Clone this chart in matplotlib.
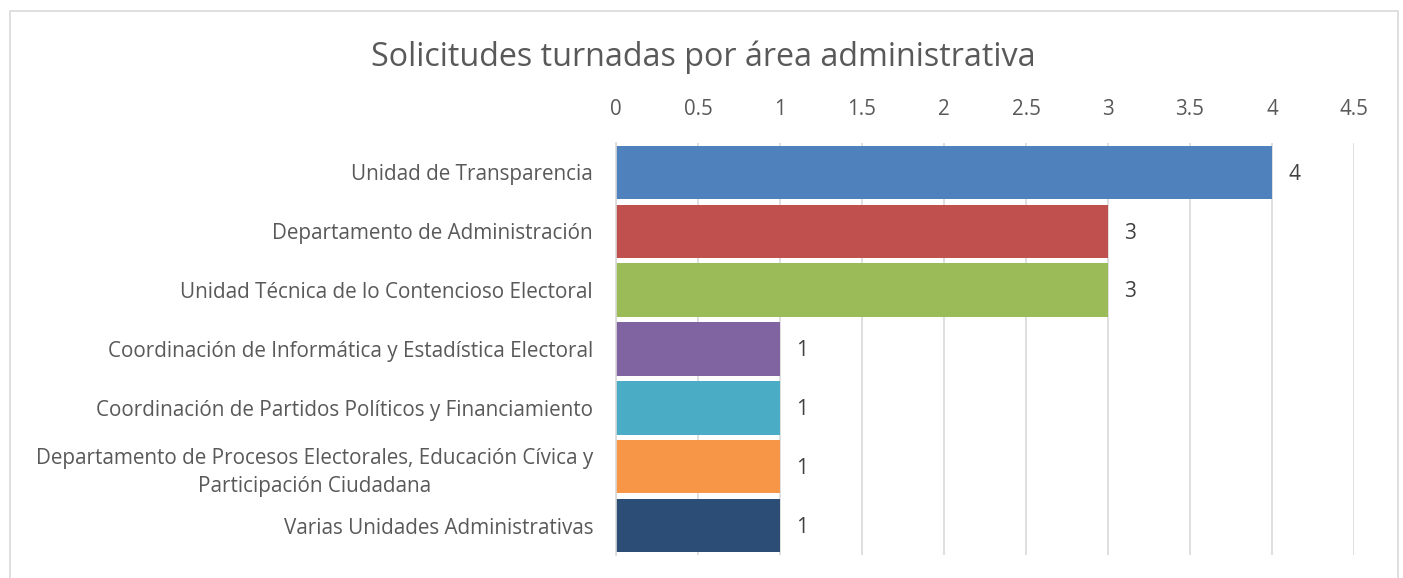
import matplotlib.pyplot as plt
from matplotlib.patches import Rectangle


areas = [
    "Unidad de Transparencia",
    "Departamento de Administración",
    "Unidad Técnica de lo Contencioso Electoral",
    "Coordinación de Informática y Estadística Electoral",
    "Coordinación de Partidos Políticos y Financiamiento",
    "Departamento de Procesos Electorales, Educación Cívica y\nParticipación Ciudadana",
    "Varias Unidades Administrativas",
]
solicitudes = [4, 3, 3, 1, 1, 1, 1]
colores = ["#4F81BD", "#C0504D", "#9BBB59", "#8064A2", "#4BACC6", "#F79646", "#2C4D75"]
ticks = [0, 0.5, 1, 1.5, 2, 2.5, 3, 3.5, 4, 4.5]
tick_labels = ["0", "0.5", "1", "1.5", "2", "2.5", "3", "3.5", "4", "4.5"]

texto = "#595959"
plt.rcParams["font.family"] = ["Open Sans", "DejaVu Sans"]

fig = plt.figure(figsize=(14.03, 5.78), dpi=100)
ax = fig.add_axes([616 / 1403, 1 - 555 / 578, (1354 - 616) / 1403, (555 - 143) / 578])

# marco del grafico
fig.patches.append(Rectangle((10 / 1403, -0.05), (1398 - 10) / 1403, 1 - 11 / 578 + 0.05,
                             transform=fig.transFigure, fill=False,
                             edgecolor="#D9D9D9", linewidth=1.2))

y = list(range(len(areas)))
ax.barh(y, solicitudes, height=0.91, color=colores, zorder=3)

for i, v in enumerate(solicitudes):
    ax.text(v + 0.1, i + 0.03, str(v), va="center", ha="left", fontsize=15, color="#404040")

ax.set_xlim(0, 4.5)
ax.set_ylim(len(areas) - 0.5, -0.5)
ax.set_xticks(ticks)
ax.set_xticklabels(tick_labels)
ax.set_yticks(y)
ax.set_yticklabels(areas, linespacing=1.45, multialignment="center")

ax.xaxis.tick_top()
ax.tick_params(axis="x", length=0, pad=16.5, labelsize=14.8, labelcolor=texto)
ax.tick_params(axis="y", length=0, pad=16.5, labelsize=14.9, labelcolor=texto)

ax.grid(axis="x", color="#D9D9D9", linewidth=1.2, zorder=0)
for lado in ["top", "right", "bottom"]:
    ax.spines[lado].set_visible(False)
ax.spines["left"].set_color("#D9D9D9")
ax.spines["left"].set_linewidth(1.2)
ax.spines["left"].set_zorder(4)

fig.text(703 / 1403, 1 - 57 / 578, "Solicitudes turnadas por área administrativa",
         ha="center", va="center", fontsize=23.2, color=texto)

fig.savefig("out.png", dpi=100)
